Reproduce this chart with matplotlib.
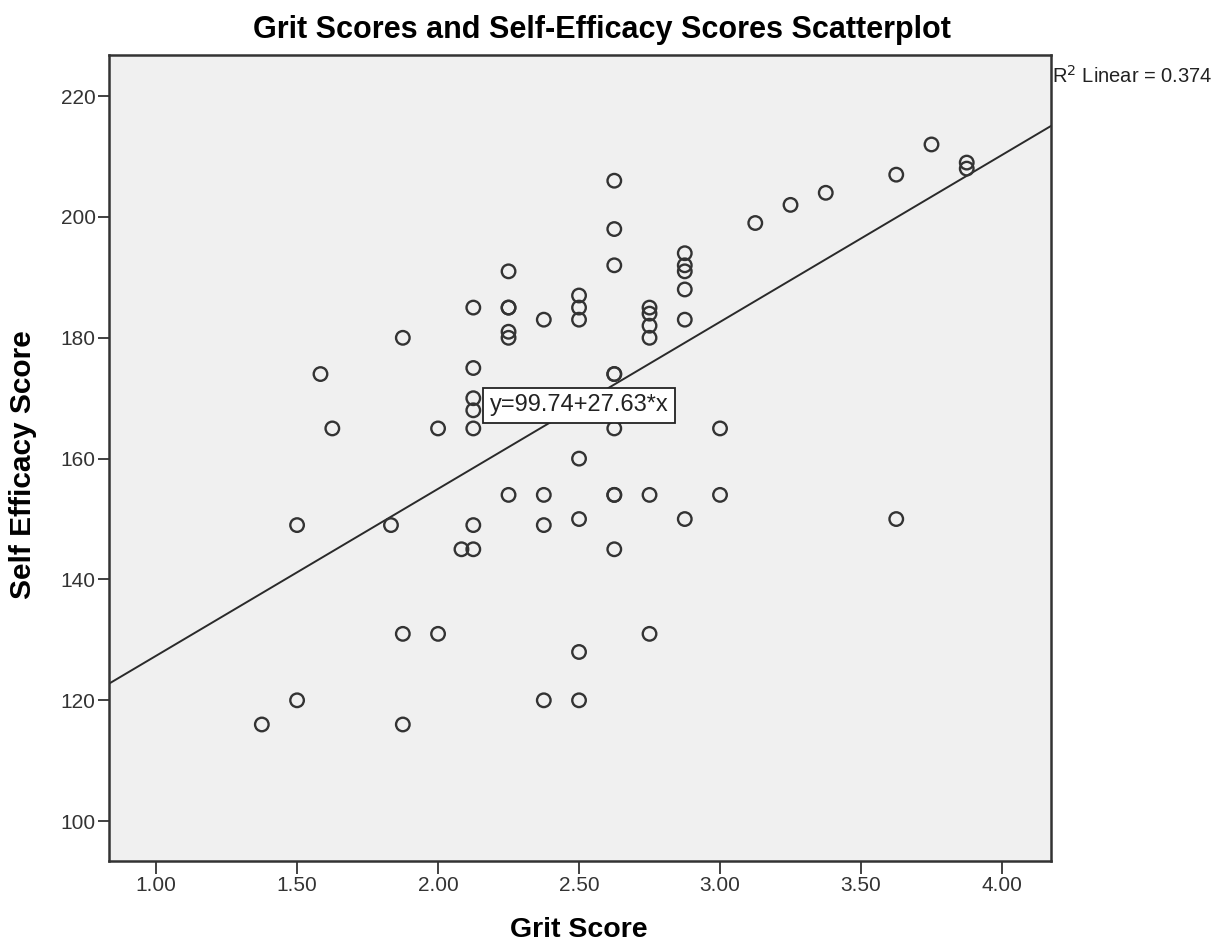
import numpy as np
import matplotlib
matplotlib.use("Agg")
import matplotlib.pyplot as plt

plt.rcParams['font.family'] = ['Liberation Sans', 'DejaVu Sans']

# grit score / self efficacy score pairs
grit = [1.375, 1.5, 1.5, 1.583, 1.625, 1.833, 1.875, 1.875, 1.875,
        2.0, 2.0, 2.083, 2.125, 2.125, 2.125, 2.125, 2.125, 2.125, 2.125,
        2.25, 2.25, 2.25, 2.25, 2.25, 2.25,
        2.375, 2.375, 2.375, 2.375,
        2.5, 2.5, 2.5, 2.5, 2.5, 2.5, 2.5,
        2.625, 2.625, 2.625, 2.625, 2.625, 2.625, 2.625, 2.625, 2.625,
        2.75, 2.75, 2.75, 2.75, 2.75, 2.75,
        2.875, 2.875, 2.875, 2.875, 2.875, 2.875,
        3.0, 3.0, 3.125, 3.25, 3.375, 3.625, 3.625, 3.75, 3.875, 3.875]
efficacy = [116, 120, 149, 174, 165, 149, 180, 131, 116,
            131, 165, 145, 145, 149, 165, 168, 170, 175, 185,
            154, 180, 181, 185, 185, 191,
            183, 154, 149, 120,
            187, 185, 183, 160, 150, 128, 120,
            206, 198, 192, 174, 174, 165, 154, 154, 145,
            185, 184, 182, 180, 154, 131,
            194, 192, 191, 188, 183, 150,
            165, 154, 199, 202, 204, 207, 150, 212, 209, 208]

intercept = 99.74
slope = 27.63
r_squared = 0.374

x_ticks = [1.0, 1.5, 2.0, 2.5, 3.0, 3.5, 4.0]
y_ticks = [100, 120, 140, 160, 180, 200, 220]
x_range = (0.832, 4.174)
y_range = (93.4, 226.8)

fig = plt.figure(figsize=(12.23, 9.49), dpi=100)
ax = fig.add_axes([0.0889, 0.0927, 0.7705, 0.8493])
ax.set_facecolor('#f0f0f0')

ax.scatter(grit, efficacy, s=95, facecolors='none', edgecolors='#333333',
           linewidths=1.7, zorder=3)

# fit line across the whole x range
xs = np.array(x_range)
ax.plot(xs, intercept + slope * xs, color='#2a2a2a', lw=1.4, zorder=2)

# equation label sits on the line
x_lab = 2.5
ax.text(x_lab, intercept + slope * x_lab, 'y=99.74+27.63*x', fontsize=17,
        va='center', ha='center', color='#222222', zorder=4,
        bbox=dict(boxstyle='square,pad=0.28', fc='white', ec='#222222', lw=1.3))

ax.set_xlim(*x_range)
ax.set_ylim(*y_range)
ax.set_xticks(x_ticks)
ax.set_xticklabels(['%.2f' % t for t in x_ticks])
ax.set_yticks(y_ticks)
ax.tick_params(axis='x', direction='out', labelsize=15, colors='#333333',
               length=9, width=1.3, pad=2)
ax.tick_params(axis='y', direction='out', labelsize=15, colors='#333333',
               length=8, width=1.3, pad=1.5)
for sp in ax.spines.values():
    sp.set_color('#333333')
    sp.set_linewidth(1.8)

fig.text(0.473, 0.0125, 'Grit Score', fontsize=20.5, fontweight='bold',
         ha='center', va='baseline')
fig.text(0.019, 0.51, 'Self Efficacy Score', fontsize=21.5, fontweight='bold',
         ha='center', va='center', rotation=90)
fig.text(0.4918, 0.96, 'Grit Scores and Self-Efficacy Scores Scatterplot',
         fontsize=22, fontweight='bold', ha='center', va='baseline')
fig.text(0.860, 0.9125, 'R$^2$ Linear = %.3f' % r_squared, fontsize=14.5,
         ha='left', va='baseline', color='#222222')

fig.savefig('out.png', dpi=100)
